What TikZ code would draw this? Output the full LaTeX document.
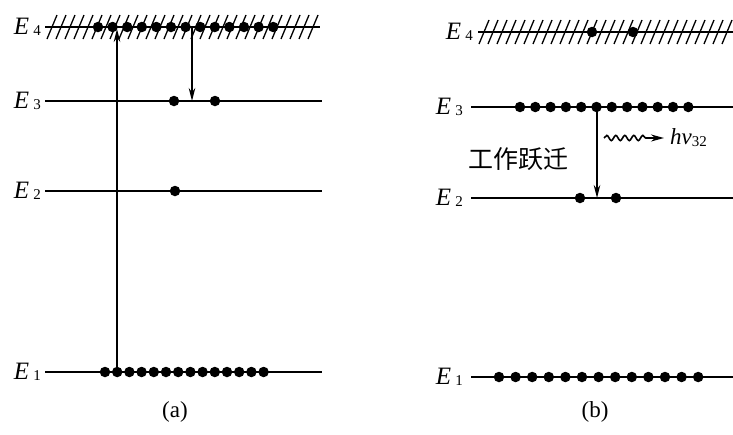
\documentclass[tikz,border=0pt]{standalone}
\usepackage{fontspec}
\setmainfont{Liberation Serif}
\newfontfamily\cjk{Noto Sans CJK SC}
\usetikzlibrary{arrows.meta,decorations.pathmorphing,positioning}

\tikzset{
  level/.style={line width=1.4pt},
  hatchline/.style={line width=1.3pt},
  electron/.style={circle,fill,inner sep=0pt,minimum size=10.5pt},
  trans/.style={line width=1.7pt,-{Stealth[length=13pt,width=6.5pt]}},
  lbl/.style={inner sep=0pt,font=\fontsize{25}{28}\selectfont},
}
\newcommand{\lev}[1]{\textit{E}\,\raisebox{-1.5pt}{\fontsize{15}{17}\selectfont #1}}

\begin{document}
\begin{tikzpicture}[x=1pt,y=-1pt]
        \useasboundingbox (0,0) rectangle (733,434);

        % (a) levels
        \coordinate (a4l) at (45,27);  \coordinate (a4r) at (320,27);
        \coordinate (a3l) at (45,101); \coordinate (a3r) at (322,101);
        \coordinate (a2l) at (45,191); \coordinate (a2r) at (322,191);
        \coordinate (a1l) at (45,372); \coordinate (a1r) at (322,372);
        \foreach \x in {52,61,...,316}
            \draw[hatchline] (\x-5,39) -- (\x+5,15);
        \foreach \n in {1,...,4}
            \draw[level] (a\n l) -- (a\n r);
        \node[lbl,left=4pt of a4l] (la4) {\lev{4}};
        \node[lbl,left=4pt of a3l] (la3) {\lev{3}};
        \node[lbl,left=4pt of a2l] (la2) {\lev{2}};
        \node[lbl,left=4pt of a1l] (la1) {\lev{1}};

        \foreach \i in {0,...,12}
            \node[electron] (ea4\i) at (98+14.6*\i,27) {};
        \node[electron] (ea3a) at (174,101) {};
        \node[electron] (ea3b) at (215,101) {};
        \node[electron] (ea2) at (175,191) {};
        \foreach \i in {0,...,13}
            \node[electron] (ea1\i) at (105+12.2*\i,372) {};

        \coordinate (pumpfrom) at (117,372);
        \coordinate (pumpto) at (117,29);
        \draw[trans] (pumpfrom) -- (pumpto);
        \coordinate (decfrom) at (192,27);
        \coordinate (decto) at (192,101);
        \draw[trans] (decfrom) -- (decto);

        \node[lbl,font=\fontsize{23}{26}\selectfont] (capa) at (175,412) {(a)};

        % (b) levels
        \coordinate (b4l) at (478,32);  \coordinate (b4r) at (733,32);
        \coordinate (b3l) at (471,107); \coordinate (b3r) at (733,107);
        \coordinate (b2l) at (471,198); \coordinate (b2r) at (733,198);
        \coordinate (b1l) at (471,377); \coordinate (b1r) at (733,377);
        \foreach \x in {484,493,...,732}
            \draw[hatchline] (\x-5,44) -- (\x+5,20);
        \foreach \n in {1,...,4}
            \draw[level] (b\n l) -- (b\n r);
        \node[lbl,left=5pt of b4l] (lb4) {\lev{4}};
        \node[lbl,left=8pt of b3l] (lb3) {\lev{3}};
        \node[lbl,left=8pt of b2l] (lb2) {\lev{2}};
        \node[lbl,left=8pt of b1l] (lb1) {\lev{1}};

        \node[electron] (eb4a) at (592,32) {};
        \node[electron] (eb4b) at (633,32) {};
        \foreach \i in {0,...,11}
            \node[electron] (eb3\i) at (520+15.3*\i,107) {};
        \node[electron] (eb2a) at (580,198) {};
        \node[electron] (eb2b) at (616,198) {};
        \foreach \i in {0,...,12}
            \node[electron] (eb1\i) at (499+16.6*\i,377) {};

        \coordinate (lasfrom) at (597,107);
        \coordinate (lasto) at (597,198);
        \draw[trans] (lasfrom) -- (lasto);
        \node[lbl,font=\cjk\fontsize{25}{28}\selectfont] (work) at (518,159) {工作跃迁};

        \coordinate (photfrom) at (604,138);
        \coordinate (photto) at (664,138);
        \draw[line width=1.6pt,-{Stealth[length=13pt,width=7pt]},
              decorate,decoration={snake,amplitude=2.6pt,segment length=9pt,post length=18pt}]
              (photfrom) -- (photto);
        \node[lbl,font=\fontsize{23}{26}\selectfont,right=6pt of photto] (hnu)
              {\textit{hν}\raisebox{-2pt}{\fontsize{15}{17}\selectfont 32}};

        \node[lbl,font=\fontsize{23}{26}\selectfont] (capb) at (595,412) {(b)};
\end{tikzpicture}
\end{document}
